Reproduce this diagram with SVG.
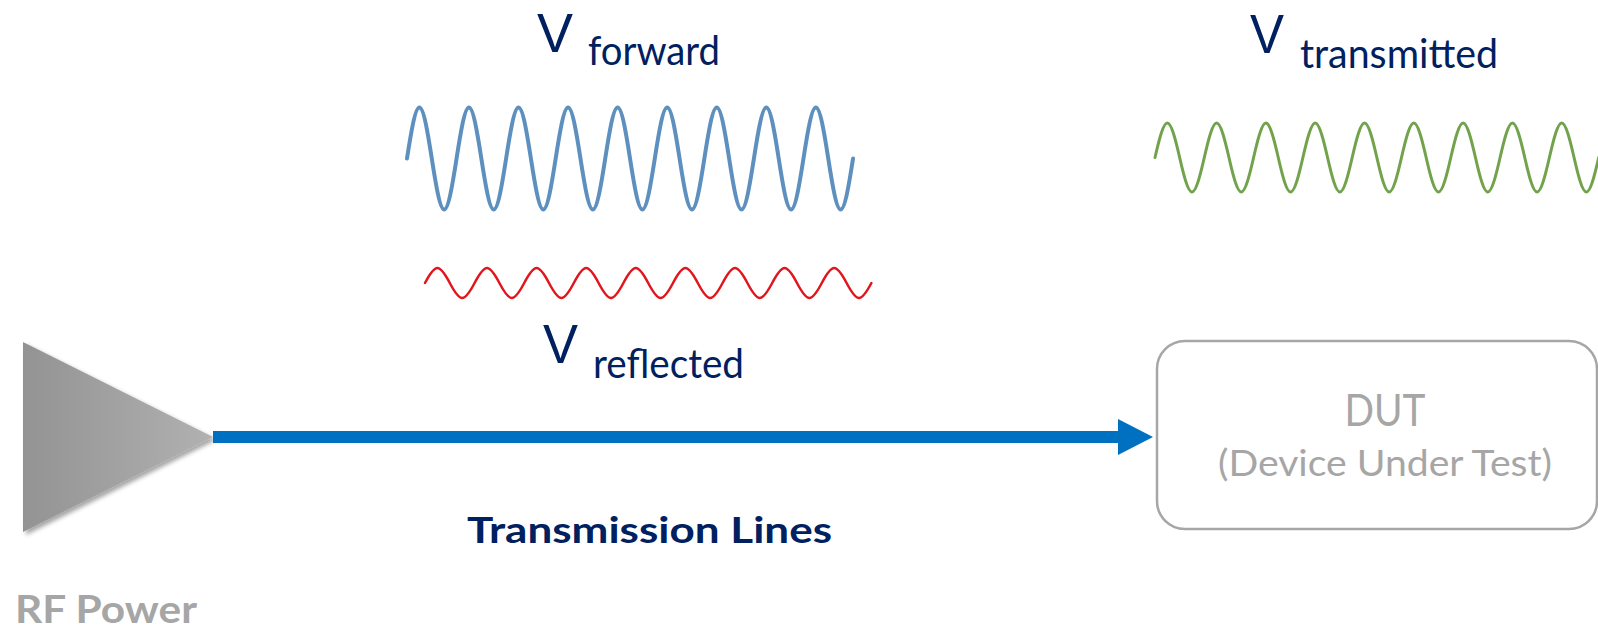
<svg xmlns="http://www.w3.org/2000/svg" width="1598" height="628" viewBox="0 0 1598 628">
  <style>
    .lbl { font-family: Lato, "Open Sans", "Liberation Sans", sans-serif; fill: #002060; }
    .vee { font-family: "Liberation Sans", Arial, sans-serif; fill: #002060; }
    .gray { font-family: Lato, "Open Sans", "Liberation Sans", sans-serif; fill: #a6a6a6; }
    .wave { fill: none; stroke-linecap: round; stroke-linejoin: round; }
  </style>
  <defs>
    <linearGradient id="triGrad" x1="0" y1="0" x2="1" y2="0">
      <stop offset="0" stop-color="#939393"/>
      <stop offset="1" stop-color="#b1b1b1"/>
    </linearGradient>
    <filter id="shadow" x="-20%" y="-20%" width="140%" height="140%">
      <feDropShadow dx="3" dy="3" stdDeviation="2" flood-color="#000" flood-opacity="0.35"/>
    </filter>
    <marker id="arr" markerUnits="userSpaceOnUse" markerWidth="36" markerHeight="36" refX="2" refY="18" orient="auto" viewBox="0 0 36 36">
      <path d="M0,0 L35,18 L0,36 z" fill="#0070c0"/>
    </marker>
  </defs>
  <rect width="1598" height="628" fill="#ffffff"/>

  <g id="rf-power">
    <polygon points="23,342 213,437 23,532" fill="url(#triGrad)" filter="url(#shadow)"/>
    <text class="gray" x="15" y="623" font-size="38" font-weight="bold" textLength="182" lengthAdjust="spacingAndGlyphs">RF Power</text>
  </g>

  <g id="dut">
    <rect x="1157" y="341" width="440" height="188" rx="28" ry="28" fill="#ffffff" stroke="#a6a6a6" stroke-width="2.5"/>
    <text class="gray" x="1385" y="426" font-size="44" text-anchor="middle" textLength="81" lengthAdjust="spacingAndGlyphs">DUT</text>
    <text class="gray" x="1385" y="476" font-size="37" text-anchor="middle" textLength="334" lengthAdjust="spacingAndGlyphs">(Device Under Test)</text>
  </g>

  <g id="connectors">
    <line x1="213" y1="437" x2="1120" y2="437" stroke="#0070c0" stroke-width="12" marker-end="url(#arr)"/>
  </g>

  <g id="transmission-label">
    <text class="lbl" x="467" y="543" font-size="37" font-weight="bold" textLength="365" lengthAdjust="spacingAndGlyphs">Transmission Lines</text>
  </g>

  <g id="v-forward">
    <text class="vee" x="537" y="52" font-size="56" textLength="36" lengthAdjust="spacingAndGlyphs">V</text>
    <text class="lbl" x="588" y="65" font-size="40" textLength="132" lengthAdjust="spacingAndGlyphs">forward</text>
    <path class="wave" stroke="#5e90bf" stroke-width="4" d="M407,158.5 c 4.045,-26.15 8.227,-51 12.39,-51 s 8.345,24.85 12.39,51 s 8.227,51 12.39,51 s 8.345,-24.85 12.39,-51
      s 8.227,-51 12.39,-51 s 8.345,24.85 12.39,51 s 8.227,51 12.39,51 s 8.345,-24.85 12.39,-51
      s 8.227,-51 12.39,-51 s 8.345,24.85 12.39,51 s 8.227,51 12.39,51 s 8.345,-24.85 12.39,-51
      s 8.227,-51 12.39,-51 s 8.345,24.85 12.39,51 s 8.227,51 12.39,51 s 8.345,-24.85 12.39,-51
      s 8.227,-51 12.39,-51 s 8.345,24.85 12.39,51 s 8.227,51 12.39,51 s 8.345,-24.85 12.39,-51
      s 8.227,-51 12.39,-51 s 8.345,24.85 12.39,51 s 8.227,51 12.39,51 s 8.345,-24.85 12.39,-51
      s 8.227,-51 12.39,-51 s 8.345,24.85 12.39,51 s 8.227,51 12.39,51 s 8.345,-24.85 12.39,-51
      s 8.227,-51 12.39,-51 s 8.345,24.85 12.39,51 s 8.227,51 12.39,51 s 8.345,-24.85 12.39,-51
      s 8.227,-51 12.39,-51 s 8.345,24.85 12.39,51 s 8.227,51 12.39,51 s 8.345,-24.85 12.39,-51"/>
  </g>

  <g id="v-reflected">
    <path class="wave" stroke="#e0161c" stroke-width="2.5" d="M425,283 c 4.049,-7.692 8.234,-15 12.4,-15 s 8.351,7.308 12.4,15 s 8.234,15 12.4,15 s 8.351,-7.308 12.4,-15
      s 8.234,-15 12.4,-15 s 8.351,7.308 12.4,15 s 8.234,15 12.4,15 s 8.351,-7.308 12.4,-15
      s 8.234,-15 12.4,-15 s 8.351,7.308 12.4,15 s 8.234,15 12.4,15 s 8.351,-7.308 12.4,-15
      s 8.234,-15 12.4,-15 s 8.351,7.308 12.4,15 s 8.234,15 12.4,15 s 8.351,-7.308 12.4,-15
      s 8.234,-15 12.4,-15 s 8.351,7.308 12.4,15 s 8.234,15 12.4,15 s 8.351,-7.308 12.4,-15
      s 8.234,-15 12.4,-15 s 8.351,7.308 12.4,15 s 8.234,15 12.4,15 s 8.351,-7.308 12.4,-15
      s 8.234,-15 12.4,-15 s 8.351,7.308 12.4,15 s 8.234,15 12.4,15 s 8.351,-7.308 12.4,-15
      s 8.234,-15 12.4,-15 s 8.351,7.308 12.4,15 s 8.234,15 12.4,15 s 8.351,-7.308 12.4,-15
      s 8.234,-15 12.4,-15 s 8.351,7.308 12.4,15 s 8.234,15 12.4,15 s 8.351,-7.308 12.4,-15"/>
    <text class="vee" x="543" y="363" font-size="56" textLength="35" lengthAdjust="spacingAndGlyphs">V</text>
    <text class="lbl" x="593" y="378" font-size="40" textLength="151" lengthAdjust="spacingAndGlyphs">reflected</text>
  </g>

  <g id="v-transmitted">
    <text class="vee" x="1250" y="53" font-size="56" textLength="34" lengthAdjust="spacingAndGlyphs">V</text>
    <text class="lbl" x="1300" y="68" font-size="40" textLength="198" lengthAdjust="spacingAndGlyphs">transmitted</text>
    <path class="wave" stroke="#72a34c" stroke-width="3" d="M1155,157.5 c 4.024,-17.69 8.184,-34.5 12.325,-34.5 s 8.301,16.81 12.325,34.5 s 8.184,34.5 12.325,34.5 s 8.301,-16.81 12.325,-34.5
      s 8.184,-34.5 12.325,-34.5 s 8.301,16.81 12.325,34.5 s 8.184,34.5 12.325,34.5 s 8.301,-16.81 12.325,-34.5
      s 8.184,-34.5 12.325,-34.5 s 8.301,16.81 12.325,34.5 s 8.184,34.5 12.325,34.5 s 8.301,-16.81 12.325,-34.5
      s 8.184,-34.5 12.325,-34.5 s 8.301,16.81 12.325,34.5 s 8.184,34.5 12.325,34.5 s 8.301,-16.81 12.325,-34.5
      s 8.184,-34.5 12.325,-34.5 s 8.301,16.81 12.325,34.5 s 8.184,34.5 12.325,34.5 s 8.301,-16.81 12.325,-34.5
      s 8.184,-34.5 12.325,-34.5 s 8.301,16.81 12.325,34.5 s 8.184,34.5 12.325,34.5 s 8.301,-16.81 12.325,-34.5
      s 8.184,-34.5 12.325,-34.5 s 8.301,16.81 12.325,34.5 s 8.184,34.5 12.325,34.5 s 8.301,-16.81 12.325,-34.5
      s 8.184,-34.5 12.325,-34.5 s 8.301,16.81 12.325,34.5 s 8.184,34.5 12.325,34.5 s 8.301,-16.81 12.325,-34.5
      s 8.184,-34.5 12.325,-34.5 s 8.301,16.81 12.325,34.5 s 8.184,34.5 12.325,34.5 s 8.301,-16.81 12.325,-34.5"/>
  </g>
</svg>
